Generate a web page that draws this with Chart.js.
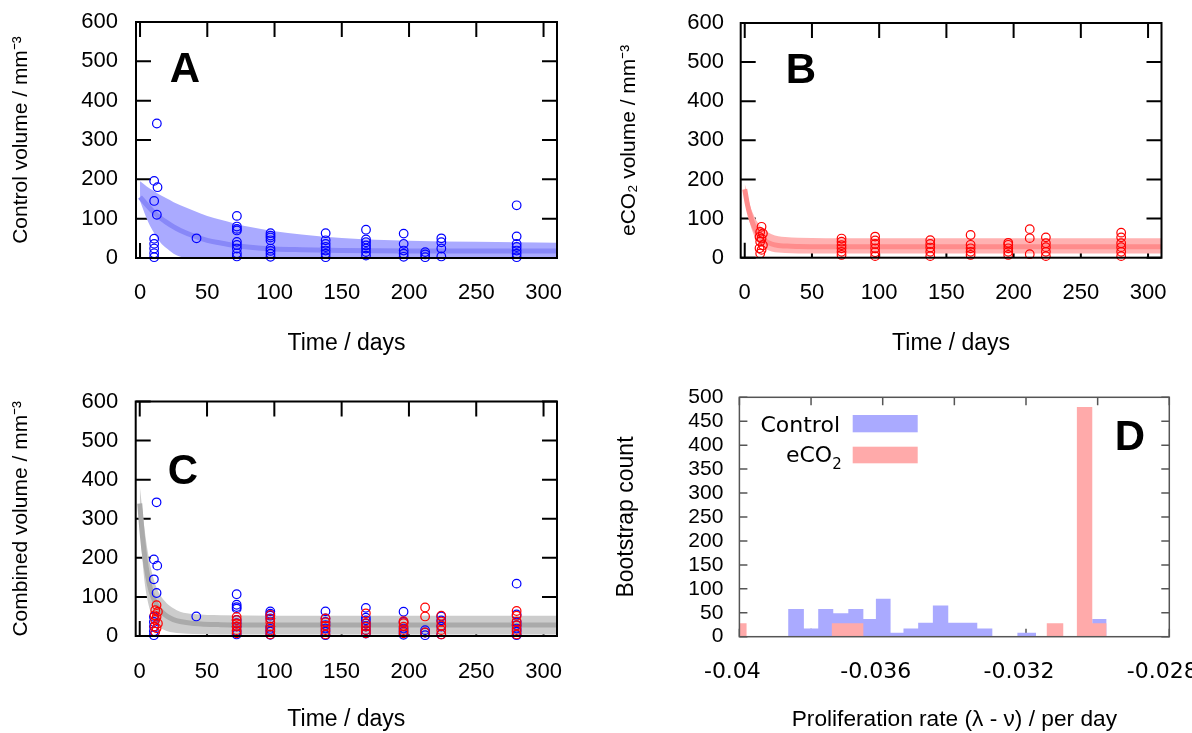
<!DOCTYPE html>
<html><head><meta charset="utf-8">
<script src="https://cdn.jsdelivr.net/npm/chart.js@4.4.1/dist/chart.umd.min.js"></script>
<style>
html,body{margin:0;padding:0;background:#fff;}
#wrap{position:relative;width:1192px;height:733px;overflow:hidden;background:#fff;}
canvas{position:absolute;}
</style></head><body>
<div id="wrap">
<canvas id="cA" width="596" height="366" style="left:0;top:0"></canvas>
<canvas id="cB" width="596" height="366" style="left:596px;top:0"></canvas>
<canvas id="cC" width="596" height="367" style="left:0;top:366px"></canvas>
<canvas id="cD" width="596" height="367" style="left:596px;top:366px"></canvas>
</div>
<script>
// ---------- data ----------
const ctrlTimes   = [10.5,10.5,10.5,10.5,10.5,10.5,10.5, 13, 12.5,12.5, 42,
  72,72,72,72,72,72,72,72,72, 97,97,97,97,97,97,97,97, 138,138,138,138,138,138,138,
  168,168,168,168,168,168,168, 196,196,196,196,196, 212,212,212, 224,224,224,224,
  280,280,280,280,280,280,280];
const ctrlVolumes = [196,145,49,36,24,12,2, 180, 342,110, 50,
  107,80,74,70,41,33,24,12,4, 63,57,52,45,24,18,11,3, 63,45,36,28,19,11,2,
  72,47,40,32,24,15,6, 62,36,19,11,3, 15,9,2, 50,40,24,4,
  134,55,36,28,19,11,2];
const eco2Times   = [11,11, 11.5,11.5,11.5, 12.5,12.5,12.5, 13.5,13.5,
  72,72,72,72,72,72, 97,97,97,97,97,97, 138,138,138,138,138, 168,168,168,168,168,
  196,196,196,196,196, 212,212,212, 224,224,224,224,224, 280,280,280,280,280,280];
const eco2Volumes = [53,24, 66,41,11, 79,49,20, 62,32,
  49,41,32,24,15,7, 54,44,35,24,14,4, 45,35,26,15,4, 58,33,24,15,7,
  38,33,24,15,7, 73,50,9, 52,37,27,15,4, 64,52,37,27,15,4];

// fitted model envelopes
const fitTimeA   = [0,5,10,15,20,25,30,40,50,60,70,80,100,120,150,200,250,310];
const fitUpperA  = [195,182,171,160,151,142,134,120,107,97,88,80,68,60,51,44,41,39];
const fitMidA    = [155,135,117,102,90,79,70,56,45,38,32,28,23,21,19,18,18,18];
const fitLowerA  = [145,100,66,40,24,11,3,0,0,0,0,0,0,0,0,0,0,0];

const fitTimeB   = [0,2,4,6,8,10,12,15,20,25,30,40,60,100,200,310];
const fitUpperB  = [190,160,133,114,99,88,79,70,60,55,53,51,50,50,50,50];
const fitMidB    = [175,136,108,87,72,60,52,43,35,31,30,28.5,28,28,28,28];
const fitLowerB  = [161,118,87,65,49,38,31,23,16,13,12,11,11,11,11,11];

const fitTimeC   = [0,2,4,6,8,10,12,15,20,25,30,40,60,100,200,310];
const fitUpperC  = [385,320,262,215,178,150,128,106,84,71,62,56,53,52,52,52];
const fitMidC    = [339,255,195,152,120,98,83,67,51,42,37,32,29,28,28,28];
const fitLowerC  = [300,195,128,88,62,45,33,22,13,9,7,5,4,4,4,4];

// bootstrap histograms (bin left edge, bin right edge, count)
const ctrlBinLeft  = [-0.03864,-0.03820,-0.03780,-0.03738,-0.03696,-0.03654,-0.03619,-0.03578,-0.03542,-0.03501,-0.03460,-0.03417,-0.03375,-0.03336,-0.03224,-0.03015];
const ctrlBinRight = [-0.03820,-0.03780,-0.03738,-0.03696,-0.03654,-0.03619,-0.03578,-0.03542,-0.03501,-0.03460,-0.03417,-0.03375,-0.03336,-0.03294,-0.03172,-0.02975];
const ctrlCounts   = [58,17,58,49,58,37,79,8,17,29,65,29,29,17,8,37];
const eco2BinLeft  = [-0.04000,-0.03742,-0.03142,-0.03058,-0.03015];
const eco2BinRight = [-0.03980,-0.03654,-0.03096,-0.03015,-0.02975];
const eco2Counts   = [28,28,28,480,28];

// ticks
const timeTicks   = [0,50,100,150,200,250,300];
const volumeTicks = [0,100,200,300,400,500,600];
const countTicks  = [0,50,100,150,200,250,300,350,400,450,500];
const rateTicks   = [-0.04,-0.038,-0.036,-0.034,-0.032,-0.03,-0.028];
const rateTickLabels = ['-0.04','','-0.036','','-0.032','','-0.028'];

// ---------- styling ----------
const F  = "'Liberation Sans', Arial, sans-serif";
const FD = "'DejaVu Sans', 'Liberation Sans', sans-serif";
const BLUE = '#0000ff', RED = '#ff0000';
const HIST_BLUE = 'rgb(170,170,255)', HIST_RED = 'rgb(255,170,170)';

const pts = (xs, ys) => xs.map((x, i) => ({x, y: ys[i]}));

const framePlugin = {
  id: 'frame',
  beforeDatasetsDraw(chart, args, o) {
    const {ctx, chartArea: a} = chart;
    const xs = chart.scales.x, ys = chart.scales.y;
    ctx.save();
    ctx.strokeStyle = o.tickColor; ctx.lineWidth = o.tickWidth;
    ctx.beginPath();
    xs.ticks.forEach(t => {
      const p = xs.getPixelForValue(t.value);
      ctx.moveTo(p, a.bottom); ctx.lineTo(p, a.bottom - o.len);
      ctx.moveTo(p, a.top); ctx.lineTo(p, a.top + o.len);
    });
    ys.ticks.forEach(t => {
      const p = ys.getPixelForValue(t.value);
      ctx.moveTo(a.left, p); ctx.lineTo(a.left + o.len, p);
      ctx.moveTo(a.right, p); ctx.lineTo(a.right - o.len, p);
    });
    ctx.stroke();
    ctx.restore();
  },
  afterDatasetsDraw(chart, args, o) {
    const {ctx, chartArea: a} = chart;
    ctx.save();
    ctx.strokeStyle = o.borderColor; ctx.lineWidth = o.borderWidth;
    ctx.strokeRect(a.left, a.top, a.right - a.left, a.bottom - a.top);
    ctx.restore();
  }
};

const annotPlugin = {
  id: 'annot',
  afterDraw(chart, args, o) {
    const ctx = chart.ctx;
    ctx.save();
    (o.items || []).forEach(it => {
      if (it.type === 'rect') {
        ctx.fillStyle = it.color; ctx.fillRect(it.x, it.y, it.w, it.h);
      } else if (it.type === 'rich') {
        let total = 0;
        it.runs.forEach(r => { ctx.font = r.font; total += ctx.measureText(r.t).width; });
        let x = it.x - total;
        ctx.fillStyle = '#000'; ctx.textAlign = 'left'; ctx.textBaseline = 'alphabetic';
        it.runs.forEach(r => { ctx.font = r.font; ctx.fillText(r.t, x, it.y + (r.dy || 0)); x += ctx.measureText(r.t).width; });
      } else {
        ctx.font = it.font; ctx.fillStyle = '#000';
        ctx.textAlign = it.align || 'left'; ctx.textBaseline = 'alphabetic';
        ctx.fillText(it.text, it.x, it.y);
      }
    });
    ctx.restore();
  }
};

function noPad(s) { s.paddingLeft = 0; s.paddingRight = 0; s.paddingTop = 0; s.paddingBottom = 0; }

function volumeScales(L) {
  return {
    x: {
      type: 'linear', min: -3, max: 310,
      afterBuildTicks: s => { s.ticks = timeTicks.map(v => ({value: v})); },
      afterFit: s => { s.height = L.xh; noPad(s); },
      grid: {display: false, drawTicks: false}, border: {display: false},
      ticks: {padding: L.xtp, color: '#000', font: {family: F, size: 22}, maxRotation: 0, autoSkip: false},
      title: {display: true, text: 'Time / days', color: '#000', font: {family: F, size: 23}, padding: {top: 0, bottom: L.xtb}}
    },
    y: {
      type: 'linear', min: 0, max: 600,
      afterBuildTicks: s => { s.ticks = volumeTicks.map(v => ({value: v})); },
      afterFit: s => { s.width = L.yw; noPad(s); },
      grid: {display: false, drawTicks: false}, border: {display: false},
      ticks: {padding: L.ytp, color: '#000', font: {family: F, size: 22}, autoSkip: false},
      title: {display: true, text: L.ytitle, color: '#000', font: {family: F, size: 21}, padding: {top: L.ytt, bottom: 0}}
    }
  };
}

function scatterSet(xs, ys, color, order) {
  return {type: 'line', data: pts(xs, ys), showLine: false, pointRadius: 4.3, pointHoverRadius: 4.3,
    pointBorderColor: color, pointBackgroundColor: 'rgba(0,0,0,0)', pointBorderWidth: 1.2,
    order, clip: false};
}
function bandSets(t, up, mid, lo, bandColor, midColor) {
  return [
    {type: 'line', data: pts(t, mid), borderColor: midColor, borderWidth: 5, pointRadius: 0,
      cubicInterpolationMode: 'monotone', fill: false, order: 5, clip: 0},
    {type: 'line', data: pts(t, up), borderColor: 'rgba(0,0,0,0)', borderWidth: 0, pointRadius: 0,
      cubicInterpolationMode: 'monotone', fill: '+1', backgroundColor: bandColor, order: 6, clip: 0},
    {type: 'line', data: pts(t, lo), borderColor: 'rgba(0,0,0,0)', borderWidth: 0, pointRadius: 0,
      cubicInterpolationMode: 'monotone', fill: false, order: 7, clip: 0}
  ];
}

const common = {responsive: false, animation: false, events: [], devicePixelRatio: 1};
const volFrame = {len: 15, tickColor: '#000', tickWidth: 2, borderColor: '#000', borderWidth: 2};

// ---------- Panel A ----------
new Chart(document.getElementById('cA'), {
  type: 'line',
  data: {datasets: [
    scatterSet(ctrlTimes, ctrlVolumes, BLUE, 1),
    ...bandSets(fitTimeA, fitUpperA, fitMidA, fitLowerA, 'rgb(170,170,255)', 'rgb(136,136,248)')
  ]},
  options: Object.assign({}, common, {
    layout: {padding: {left: 0, top: 22, right: 39, bottom: 0}},
    scales: volumeScales({xh: 108, xtp: 22, xtb: 9, yw: 136, ytp: 18, ytt: 9, ytitle: 'Control volume / mm⁻³'}),
    plugins: {legend: {display: false}, tooltip: {enabled: false},
      frame: volFrame,
      annot: {items: [{text: 'A', x: 185, y: 82, font: 'bold 42px ' + F, align: 'center'}]}}
  }),
  plugins: [framePlugin, annotPlugin]
});

// ---------- Panel B ----------
new Chart(document.getElementById('cB'), {
  type: 'line',
  data: {datasets: [
    scatterSet(eco2Times, eco2Volumes, RED, 1),
    ...bandSets(fitTimeB, fitUpperB, fitMidB, fitLowerB, 'rgb(255,178,178)', 'rgb(255,140,140)')
  ]},
  options: Object.assign({}, common, {
    layout: {padding: {left: 0, top: 23, right: 30.5, bottom: 0}},
    scales: volumeScales({xh: 108.3, xtp: 22, xtb: 9, yw: 144.7, ytp: 16.7, ytt: 21, ytitle: 'eCO₂ volume / mm⁻³'}),
    plugins: {legend: {display: false}, tooltip: {enabled: false},
      frame: volFrame,
      annot: {items: [{text: 'B', x: 205, y: 83, font: 'bold 42px ' + F, align: 'center'}]}}
  }),
  plugins: [framePlugin, annotPlugin]
});

// ---------- Panel C ----------
new Chart(document.getElementById('cC'), {
  type: 'line',
  data: {datasets: [
    scatterSet(eco2Times, eco2Volumes, RED, 0),
    scatterSet(ctrlTimes, ctrlVolumes, BLUE, 1),
    ...bandSets(fitTimeC, fitUpperC, fitMidC, fitLowerC, 'rgb(204,204,204)', 'rgb(170,170,170)')
  ]},
  options: Object.assign({}, common, {
    layout: {padding: {left: 0, top: 35.5, right: 39, bottom: 0}},
    scales: volumeScales({xh: 97, xtp: 22.8, xtb: 0, yw: 135.7, ytp: 17.4, ytt: 9, ytitle: 'Combined volume / mm⁻³'}),
    plugins: {legend: {display: false}, tooltip: {enabled: false},
      frame: volFrame,
      annot: {items: [{text: 'C', x: 183, y: 118, font: 'bold 42px ' + F, align: 'center'}]}}
  }),
  plugins: [framePlugin, annotPlugin]
});

// ---------- Panel D ----------
function histPoints(left, right, counts) {
  const out = [];
  left.forEach((l, i) => { out.push({x: l, y: counts[i]}); out.push({x: right[i], y: 0}); });
  return out;
}
new Chart(document.getElementById('cD'), {
  type: 'line',
  data: {datasets: [
    {label: 'eCO2', data: histPoints(eco2BinLeft, eco2BinRight, eco2Counts), stepped: 'before',
      fill: 'origin', backgroundColor: HIST_RED, borderColor: 'rgba(0,0,0,0)', borderWidth: 0, pointRadius: 0, order: 0},
    {label: 'Control', data: histPoints(ctrlBinLeft, ctrlBinRight, ctrlCounts), stepped: 'before',
      fill: 'origin', backgroundColor: HIST_BLUE, borderColor: 'rgba(0,0,0,0)', borderWidth: 0, pointRadius: 0, order: 1}
  ]},
  options: Object.assign({}, common, {
    layout: {padding: {left: 0, top: 31.3, right: 22.7, bottom: 0}},
    scales: {
      x: {
        type: 'linear', min: -0.04, max: -0.028,
        afterBuildTicks: s => { s.ticks = rateTicks.map(v => ({value: v})); },
        afterFit: s => { s.height = 96.3; noPad(s); },
        grid: {display: false, drawTicks: false}, border: {display: false},
        ticks: {padding: 22, labelOffset: -7, color: '#000', font: {family: FD, size: 22}, maxRotation: 0, autoSkip: false,
          callback: (v, i) => rateTickLabels[i]},
        title: {display: true, text: 'Proliferation rate (λ - ν) / per day', color: '#000', font: {family: F, size: 22.7}, padding: {top: 0, bottom: 0}}
      },
      y: {
        type: 'linear', min: 0, max: 500,
        afterBuildTicks: s => { s.ticks = countTicks.map(v => ({value: v})); },
        afterFit: s => { s.width = 143.4; noPad(s); },
        grid: {display: false, drawTicks: false}, border: {display: false},
        ticks: {padding: 16, color: '#000', font: {family: F, size: 21}, autoSkip: false},
        title: {display: true, text: 'Bootstrap count', color: '#000', font: {family: F, size: 23}, padding: {top: 17, bottom: 0}}
      }
    },
    plugins: {legend: {display: false}, tooltip: {enabled: false},
      frame: {len: 8, tickColor: '#555', tickWidth: 1.5, borderColor: '#555', borderWidth: 1.5},
      annot: {items: [
        {text: 'D', x: 534, y: 84, font: 'bold 42px ' + F, align: 'center'},
        {text: 'Control', x: 244, y: 66, font: '22px ' + FD, align: 'right'},
        {type: 'rect', x: 256.7, y: 49, w: 65, h: 17.3, color: HIST_BLUE},
        {type: 'rich', x: 245.7, y: 96, runs: [{t: 'eCO', font: '22px ' + FD}, {t: '2', font: '15px ' + FD, dy: 6.5}]},
        {type: 'rect', x: 256.7, y: 80.7, w: 65, h: 16.6, color: HIST_RED}
      ]}}
  }),
  plugins: [framePlugin, annotPlugin]
});
</script>
</body></html>
